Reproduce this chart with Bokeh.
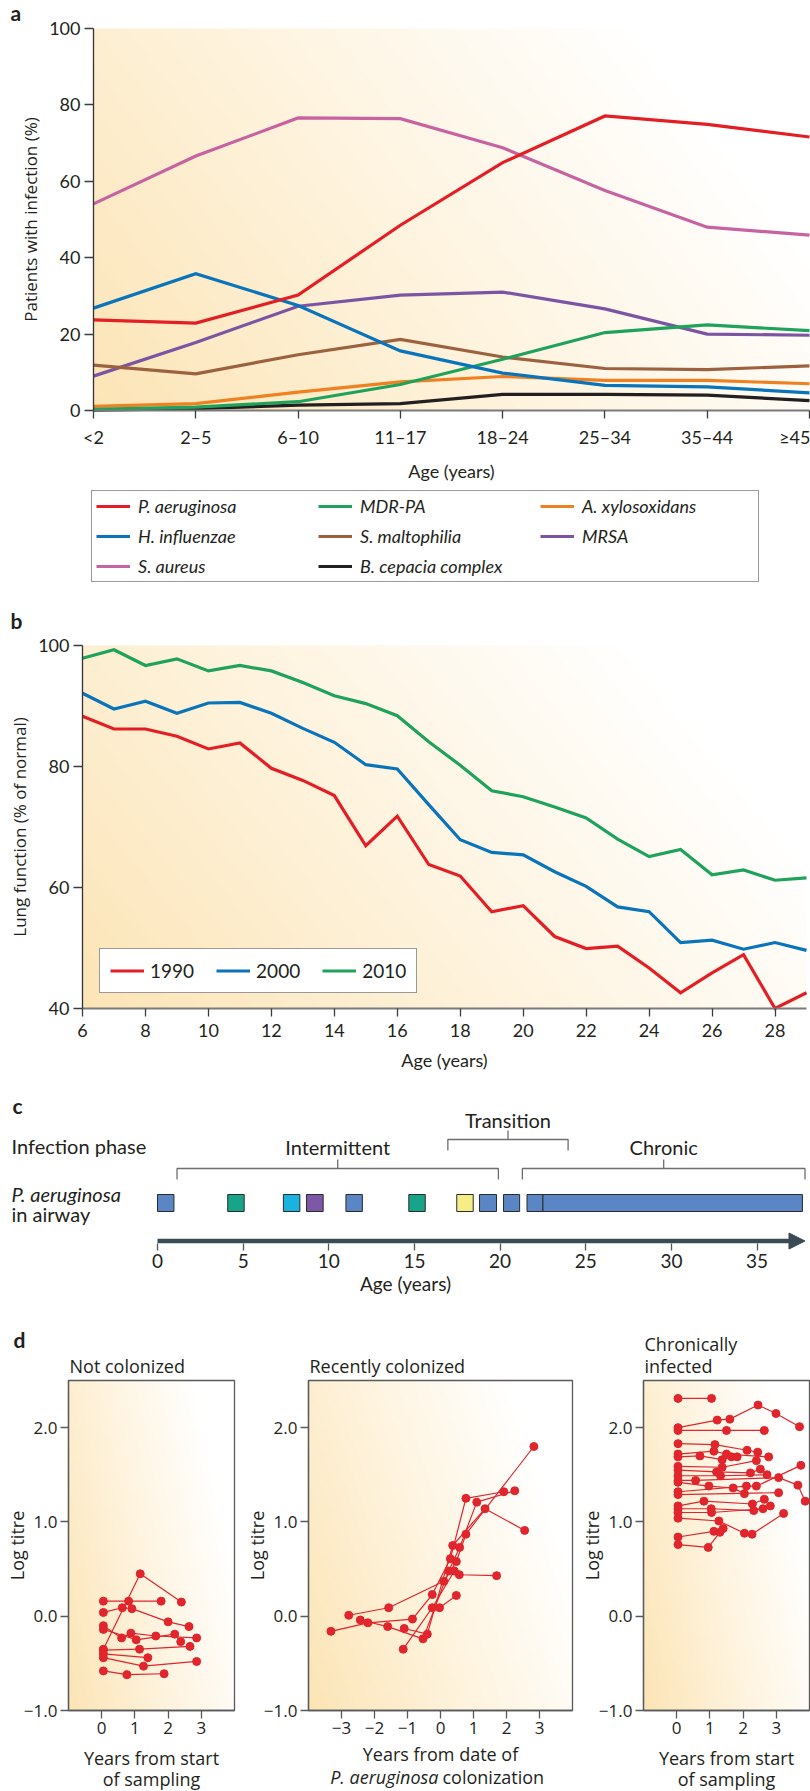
import numpy as np
from bokeh.plotting import figure
from bokeh.models import (Range1d, FixedTicker, Legend, LegendItem, Label,
                          Arrow, NormalHead)
from bokeh.layouts import column, row
from bokeh.embed import file_html
from bokeh.resources import INLINE
from bokeh.core.properties import value

# ---------------- data: panel a ----------------
age_groups = ["<2", "2–5", "6–10", "11–17", "18–24", "25–34", "35–44", "≥45"]
p_aeruginosa = [23.7, 22.9, 30.2, 48.5, 64.9, 77.1, 74.9, 71.6]
h_influenzae = [26.8, 35.8, 27.5, 15.6, 9.8, 6.6, 6.2, 4.6]
s_aureus = [54.1, 66.6, 76.6, 76.4, 68.8, 57.6, 48.0, 45.9]
mdr_pa = [0.3, 0.9, 2.3, 6.8, 13.4, 20.4, 22.4, 20.9]
s_maltophilia = [11.9, 9.6, 14.6, 18.6, 14.0, 11.0, 10.7, 11.7]
b_cepacia = [0.1, 0.5, 1.4, 1.8, 4.2, 4.2, 4.0, 2.6]
a_xylosoxidans = [1.1, 1.8, 4.8, 7.5, 8.9, 7.9, 7.9, 7.0]
mrsa = [9.0, 17.8, 27.3, 30.2, 31.0, 26.6, 20.0, 19.7]
a_names = ["P. aeruginosa", "H. influenzae", "S. aureus", "MDR-PA", "S. maltophilia",
           "B. cepacia complex", "A. xylosoxidans", "MRSA"]
a_values = [p_aeruginosa, h_influenzae, s_aureus, mdr_pa, s_maltophilia,
            b_cepacia, a_xylosoxidans, mrsa]
a_colors = ["#e31e24", "#0a74bb", "#c763a1", "#1fa25b", "#9c6240",
            "#231f20", "#f08122", "#7b55a4"]
a_yticks = [0, 20, 40, 60, 80, 100]

# ---------------- data: panel b ----------------
b_age = [6, 7, 8, 9, 10, 11, 12, 13, 14, 15, 16, 17, 18, 19, 20, 21, 22, 23, 24, 25, 26, 27, 28, 29]
fev_1990 = [88.3, 86.2, 86.2, 85.0, 82.9, 83.9, 79.7, 77.7, 75.2, 66.9, 71.8, 63.8,
            61.9, 56.0, 57.0, 51.9, 49.9, 50.3, 46.7, 42.6, 45.9, 48.9, 40.0, 42.6]
fev_2000 = [92.1, 89.5, 90.8, 88.8, 90.5, 90.6, 88.8, 86.3, 84.0, 80.3, 79.6, 73.7,
            67.9, 65.8, 65.4, 62.6, 60.2, 56.8, 56.0, 50.9, 51.3, 49.8, 50.9, 49.6]
fev_2010 = [97.9, 99.3, 96.7, 97.8, 95.8, 96.7, 95.8, 93.9, 91.7, 90.4, 88.4, 84.1,
            80.2, 76.0, 75.0, 73.3, 71.5, 68.0, 65.1, 66.3, 62.1, 62.9, 61.2, 61.6]
b_years = ["1990", "2000", "2010"]
b_values = [fev_1990, fev_2000, fev_2010]
b_colors = ["#e31e24", "#0a74bb", "#1fa25b"]
b_xticks = [6, 8, 10, 12, 14, 16, 18, 20, 22, 24, 26, 28]
b_yticks = [40, 60, 80, 100]

# ---------------- data: panel c ----------------
c_box_start = [0.0, 4.1, 7.35, 8.7, 11.0, 14.67, 17.47, 18.8, 20.2, 21.57, 22.5]
c_box_end = [0.96, 5.06, 8.31, 9.67, 11.96, 15.63, 18.43, 19.79, 21.14, 22.5, 37.65]
c_box_color = ["#5b86c5", "#17a589", "#1bb2df", "#7d58a7", "#5b86c5", "#17a589",
               "#f6ed86", "#5b86c5", "#5b86c5", "#5b86c5", "#5b86c5"]
phase_names = ["Intermittent", "Transition", "Chronic"]
phase_start = [1.14, 16.95, 21.3]
phase_end = [19.9, 23.97, 37.8]
phase_row = [0, 1, 0]
c_arrow_end = 37.8
c_xticks = [0, 5, 10, 15, 20, 25, 30, 35]

# ---------------- data: panel d ----------------
d1_x = [[0.05, 0.81, 1.79], [0.05, 1.16, 2.40], [0.05, 0.62, 0.91, 2.0, 2.63],
        [0.05, 0.60, 0.88, 1.63, 2.86], [0.05, 1.04, 2.20, 2.38], [0.05, 1.14, 2.66],
        [0.05, 1.39], [0.05, 1.26, 2.86], [0.05, 0.76, 1.88]]
d1_y = [[0.16, 0.16, 0.16], [-0.35, 0.45, 0.15], [0.04, 0.09, 0.08, -0.06, -0.11],
        [-0.10, -0.23, -0.18, -0.21, -0.23], [-0.14, -0.25, -0.19, -0.27], [-0.36, -0.35, -0.32],
        [-0.40, -0.44], [-0.44, -0.53, -0.48], [-0.58, -0.62, -0.61]]
d2_x = [[-3.32, -2.2, -0.85, -0.25, 0.30, 0.77, 1.92],
        [-2.78, -1.57, 0.10, 0.48, 0.77, 2.83],
        [-2.43, -1.6, -0.53, 0.25, 0.58, 1.10, 2.25],
        [-1.1, -0.4, 0.37, 1.35, 2.55],
        [-1.13, -0.25, 0.42, 0.57, 1.70],
        [-0.03, 0.48]]
d2_y = [[-0.16, -0.07, -0.03, 0.23, 0.61, 1.25, 1.32],
        [0.01, 0.09, 0.37, 0.58, 0.87, 1.80],
        [-0.04, -0.11, -0.24, 0.48, 0.73, 1.21, 1.33],
        [-0.13, -0.19, 0.75, 1.14, 0.91],
        [-0.35, 0.09, 0.48, 0.44, 0.43],
        [0.09, 0.22]]
d3_x = [[0.04, 1.05], [0.04, 1.22, 1.60, 2.45, 2.99, 3.70], [0.04, 1.50, 2.64],
        [0.04, 1.15, 2.12, 2.44], [0.04, 1.12, 1.50, 2.77], [0.04, 0.70, 1.37, 1.65, 1.82],
        [0.04, 1.37, 2.40], [0.04, 1.20, 2.22, 2.52], [0.04, 1.32, 2.72],
        [0.04, 0.57, 3.07, 3.65, 3.87], [0.04, 0.97, 1.70, 2.04], [0.04, 2.10, 2.40, 3.74],
        [0.04, 3.07], [0.04, 0.82, 2.28, 2.64], [0.04, 1.04, 2.32, 2.82], [0.04, 1.05, 2.60],
        [0.04, 1.27, 2.04, 2.27, 3.22], [0.04, 1.12, 1.40], [0.04, 0.95, 1.30]]
d3_y = [[2.31, 2.31], [2.00, 2.08, 2.09, 2.24, 2.15, 2.01], [1.97, 1.97, 1.97],
        [1.83, 1.82, 1.76, 1.74], [1.72, 1.75, 1.72, 1.69], [1.69, 1.70, 1.66, 1.69, 1.69],
        [1.59, 1.58, 1.65], [1.55, 1.53, 1.52, 1.56], [1.49, 1.49, 1.50],
        [1.44, 1.44, 1.47, 1.39, 1.22], [1.42, 1.38, 1.36, 1.30], [1.32, 1.38, 1.38, 1.60],
        [1.29, 1.31], [1.17, 1.22, 1.19, 1.24], [1.14, 1.14, 1.12, 1.17], [1.10, 1.10, 1.14],
        [1.04, 1.01, 0.88, 0.87, 1.09], [0.84, 0.90, 0.93], [0.76, 0.73, 0.89]]
d_ylim = [-1, 2.5]
d_yticks = [-1, 0, 1, 2]
d1_xlim, d1_xticks = [-1, 4], [0, 1, 2, 3]
d2_xlim, d2_xticks = [-4, 4], [-3, -2, -1, 0, 1, 2, 3]
d3_xlim, d3_xticks = [-1, 4], [0, 1, 2, 3]

# ---------------- styling ----------------
SANS = "Lato"
HUM = "Open Sans"
INK = "#231f20"
TICK = "#3c3c3c"
RED = "#e0252c"
SLATE = "#3a4b55"
BOXC = "#58595b"
W = 810


def gradient(nx, ny):
    u = np.linspace(0, 1, nx)[None, :]
    v = np.linspace(0, 1, ny)[:, None]
    t = np.clip(0.85 * u + 0.35 * v, 0, 1) ** 0.9
    c0 = np.array([252, 228, 180], float)
    img = np.zeros((ny, nx), dtype=np.uint32)
    view = img.view(dtype=np.uint8).reshape((ny, nx, 4))
    for k in range(3):
        view[:, :, k] = np.round(c0[k] + (255 - c0[k]) * t).astype(np.uint8)
    view[:, :, 3] = 255
    return img


def add_bg(p, x0, x1, y0, y1, nx, ny):
    p.image_rgba(image=[gradient(nx, ny)], x=x0, y=y0, dw=x1 - x0, dh=y1 - y0)


def frame_ranges(Wd, H, xlo, xhi, ylo, yhi, left, right, bottom, top):
    """Ranges such that the data box [xlo,xhi]x[ylo,yhi] sits at the given pixel margins."""
    sx = (xhi - xlo) / (Wd - left - right)
    sy = (yhi - ylo) / (H - bottom - top)
    return (Range1d(xlo - left * sx, xhi + right * sx),
            Range1d(ylo - bottom * sy, yhi + top * sy))


def style_axes(p, tick_font, tick_size, lab_font, lab_size):
    for ax in p.axis:
        ax.major_label_text_font = tick_font
        ax.major_label_text_font_size = tick_size
        ax.major_label_text_color = INK
        ax.axis_label_text_font = lab_font
        ax.axis_label_text_font_size = lab_size
        ax.axis_label_text_font_style = "normal"
        ax.axis_label_text_color = INK
        ax.minor_tick_line_color = None
        ax.major_tick_in = 0
        ax.major_tick_line_color = TICK
        ax.major_tick_line_width = 1.3


def screen_label(p, text, x, y, font=SANS, size="21px", style="normal", align="left"):
    p.add_layout(Label(x=x, y=y, x_units="screen", y_units="screen", text=text,
                       text_font=font, text_font_style=style, text_font_size=size,
                       text_align=align, text_baseline="alphabetic", text_color=INK))


def minus(v, fmt):
    return fmt.format(v).replace("-", "−")


# ======================= panel a =======================
HA = 600
xr, yr = frame_ranges(W, HA, 0, len(age_groups) - 1, a_yticks[0], a_yticks[-1], 93, 1, 190, 28)
pa = figure(width=W, height=HA, x_range=xr, y_range=yr, min_border=0,
            output_backend="svg", toolbar_location=None)
pa.outline_line_color = None
pa.grid.visible = False
add_bg(pa, 0, len(age_groups) - 1, a_yticks[0], a_yticks[-1], 240, 120)
xi = list(range(len(age_groups)))
rend_a = {}
for name, vals, col in reversed(list(zip(a_names, a_values, a_colors))):
    rend_a[name] = pa.line(xi, vals, line_color=col, line_width=3.2, line_join="miter")
style_axes(pa, SANS, "18px", SANS, "18px")
pa.xaxis.fixed_location = a_yticks[0]
pa.xaxis.bounds = (0, len(age_groups) - 1)
pa.xaxis.ticker = FixedTicker(ticks=xi)
pa.xaxis.major_label_overrides = {i: g for i, g in enumerate(age_groups)}
pa.xaxis.axis_label = "Age (years)"
pa.xaxis.major_tick_out = 8
pa.xaxis.major_label_standoff = 7
pa.xaxis.axis_label_standoff = 9
pa.xaxis.axis_line_color = "#7a7a7a"
pa.xaxis.axis_line_width = 2
pa.yaxis.fixed_location = 0
pa.yaxis.bounds = (a_yticks[0], a_yticks[-1])
pa.yaxis.ticker = FixedTicker(ticks=a_yticks)
pa.yaxis.axis_label = "Patients with infection (%)"
pa.yaxis.axis_label_text_font = HUM
pa.yaxis.axis_label_text_font_size = "17px"
pa.yaxis.major_tick_out = 9
pa.yaxis.major_label_standoff = 4
pa.yaxis.axis_label_standoff = 4
pa.yaxis.axis_line_color = "#333333"
pa.yaxis.axis_line_width = 1.3
leg_a = Legend(items=[LegendItem(label=n, renderers=[rend_a[n]]) for n in a_names],
               location=(91, 18), ncols=3, orientation="vertical",
               border_line_color="#333333", border_line_width=1.3,
               background_fill_color="white", background_fill_alpha=1,
               label_text_font=SANS, label_text_font_style="italic",
               label_text_font_size="18px", label_text_color=INK,
               glyph_width=34, glyph_height=18, label_height=18, label_width=172,
               label_standoff=8, padding=4, spacing=8, margin=0)
pa.add_layout(leg_a)
screen_label(pa, "a", 10, HA - 12, style="bold")

# ======================= panel b =======================
HB = 485
xr, yr = frame_ranges(W, HB, b_age[0], b_age[-1], b_yticks[0], b_yticks[-1], 82, 4, 77, 45)
pb = figure(width=W, height=HB, x_range=xr, y_range=yr, min_border=0,
            output_backend="svg", toolbar_location=None)
pb.outline_line_color = None
pb.grid.visible = False
add_bg(pb, b_age[0], b_age[-1], b_yticks[0], b_yticks[-1], 240, 120)
rend_b = []
for vals, col in zip(b_values, b_colors):
    rend_b.append(pb.line(b_age, vals, line_color=col, line_width=3.2, line_join="miter"))
style_axes(pb, SANS, "18px", SANS, "18px")
pb.xaxis.fixed_location = b_yticks[0]
pb.xaxis.bounds = (b_age[0], b_age[-1])
pb.xaxis.ticker = FixedTicker(ticks=b_xticks)
pb.xaxis.axis_label = "Age (years)"
pb.xaxis.major_tick_out = 8
pb.xaxis.major_label_standoff = 7
pb.xaxis.axis_label_standoff = 9
pb.xaxis.axis_line_color = "#7a7a7a"
pb.xaxis.axis_line_width = 2
pb.yaxis.fixed_location = b_age[0]
pb.yaxis.bounds = (b_yticks[0], b_yticks[-1])
pb.yaxis.ticker = FixedTicker(ticks=b_yticks)
pb.yaxis.axis_label = "Lung function (% of normal)"
pb.yaxis.axis_label_text_font = HUM
pb.yaxis.axis_label_text_font_size = "17px"
pb.yaxis.major_tick_out = 9
pb.yaxis.major_label_standoff = 4
pb.yaxis.axis_label_standoff = 4
pb.yaxis.axis_line_color = "#333333"
pb.yaxis.axis_line_width = 1.3
leg_b = Legend(items=[LegendItem(label=yv, renderers=[r]) for yv, r in zip(b_years, rend_b)],
               location=(99, 92), orientation="horizontal",
               border_line_color="#333333", border_line_width=1.3,
               background_fill_color="white", background_fill_alpha=1,
               label_text_font=SANS, label_text_font_size="19px", label_text_color=INK,
               glyph_width=34, glyph_height=15, label_height=15,
               label_standoff=6, padding=10, spacing=22, margin=0)
pb.add_layout(leg_b)
screen_label(pb, "b", 10, HB - 20, style="bold")

# ======================= panel c =======================
PX_PER_YEAR = 17.13
C_ZERO = 157.0  # px from left edge of the plot to age 0
C_FRAME_H = 165
HC = 222
pc = figure(width=W, height=HC,
            x_range=Range1d(-C_ZERO / PX_PER_YEAR, (W - C_ZERO) / PX_PER_YEAR),
            y_range=Range1d(0, C_FRAME_H), y_axis_type=None,
            output_backend="svg", toolbar_location=None,
            min_border_left=0, min_border_right=0, min_border_top=0,
            min_border_bottom=HC - C_FRAME_H)
pc.outline_line_color = None
pc.grid.visible = False
BOX_LO, BOX_HI = 39, 56
pc.quad(left=c_box_start, right=c_box_end, bottom=BOX_LO, top=BOX_HI,
        fill_color=c_box_color, line_color="#2b2b2b", line_width=1)
BR_BASE, BR_STEP, BR_DROP, BR_RISE, BR_LABEL = 82, 29, 11, 9, 22
br_xs, br_ys, lab_x, lab_y = [], [], [], []
for s, e, r in zip(phase_start, phase_end, phase_row):
    base = BR_BASE + BR_STEP * r
    m = (s + e) / 2
    br_xs += [[s, s, e, e], [m, m]]
    br_ys += [[base - BR_DROP, base, base, base - BR_DROP], [base, base + BR_RISE]]
    lab_x.append(m)
    lab_y.append(base + BR_LABEL - 2 * r)
pc.multi_line(xs=br_xs, ys=br_ys, line_color="#6d6e70", line_width=1.3)
pc.text(x=lab_x, y=lab_y, text=phase_names, text_font=value(SANS),
        text_font_size=value("20px"), text_align="center", text_baseline="middle",
        text_color=INK)
ARROW_Y = 9.5
pc.add_layout(Arrow(end=NormalHead(size=16, fill_color=SLATE, line_color=SLATE, line_width=1),
                    x_start=c_box_start[0], y_start=ARROW_Y, x_end=c_arrow_end, y_end=ARROW_Y,
                    line_width=4.5, line_color=SLATE))
style_axes(pc, SANS, "19px", SANS, "19px")
pc.xaxis.ticker = FixedTicker(ticks=c_xticks)
pc.xaxis.axis_line_color = None
pc.xaxis.major_tick_in = 7
pc.xaxis.major_tick_out = 0
pc.xaxis.major_tick_line_color = "#555555"
pc.xaxis.major_label_standoff = 3
pc.xaxis.axis_label = "Age (years)"
pc.xaxis.axis_label_standoff = 1
for txt, yy, style in [("Infection phase", 105, "normal"), ("P. aeruginosa", 57, "italic"),
                       ("in airway", 37, "normal")]:
    pc.add_layout(Label(x=11, y=yy, x_units="screen", y_units="data", text=txt,
                        text_font=SANS, text_font_size="20px", text_font_style=style,
                        text_baseline="middle", text_color=INK))
pc.add_layout(Label(x=12, y=145, x_units="screen", y_units="data", text="c",
                    text_font=SANS, text_font_style="bold", text_font_size="21px",
                    text_baseline="alphabetic", text_color=INK))

# ======================= panel d =======================
HD = 484
D_TOP, D_BOTTOM = 73, 81


def d_panel(Wd, left, right, xlim, xticks, xs, ys, xlabel, label_standoff):
    xr, yr = frame_ranges(Wd, HD, xlim[0], xlim[1], d_ylim[0], d_ylim[1],
                          left, right, D_BOTTOM, D_TOP)
    p = figure(width=Wd, height=HD, x_range=xr, y_range=yr, min_border=0,
               output_backend="svg", toolbar_location=None)
    p.grid.visible = False
    p.outline_line_color = None
    add_bg(p, xlim[0], xlim[1], d_ylim[0], d_ylim[1], 70, 140)
    p.quad(left=xlim[0], right=xlim[1], bottom=d_ylim[0], top=d_ylim[1],
           fill_color=None, line_color=BOXC, line_width=1.3)
    p.multi_line(xs=xs, ys=ys, line_color=RED, line_width=1.2)
    fx = [v for s in xs for v in s]
    fy = [v for s in ys for v in s]
    p.scatter(x=fx, y=fy, size=8, fill_color=RED, line_color=RED)
    style_axes(p, HUM, "17px", HUM, "18px")
    for ax in p.axis:
        ax.axis_line_color = BOXC
        ax.axis_line_width = 1.3
        ax.major_tick_out = 8
        ax.major_label_standoff = 3
        ax.major_tick_line_color = BOXC
    p.yaxis.fixed_location = xlim[0]
    p.yaxis.bounds = (d_ylim[0], d_ylim[1])
    p.yaxis.ticker = FixedTicker(ticks=d_yticks)
    p.yaxis.major_label_overrides = {t: minus(t, "{:.1f}") for t in d_yticks}
    p.yaxis.axis_label = "Log titre"
    p.yaxis.axis_label_standoff = -8
    p.xaxis.fixed_location = d_ylim[0]
    p.xaxis.bounds = (xlim[0], xlim[1])
    p.xaxis.ticker = FixedTicker(ticks=xticks)
    p.xaxis.major_label_overrides = {t: minus(t, "{:d}") for t in xticks}
    p.xaxis.axis_label = xlabel
    p.xaxis.axis_label_text_line_height = 0.9
    p.xaxis.axis_label_standoff = label_standoff
    return p


d1 = d_panel(240, 68, 6, d1_xlim, d1_xticks, d1_x, d1_y, "Years from start\nof sampling", 9)
d2 = d_panel(340, 68, 8, d2_xlim, d2_xticks, d2_x, d2_y, "Years from date of", 5)
d3 = d_panel(230, 63, 1, d3_xlim, d3_xticks, d3_x, d3_y, "Years from start\nof sampling", 9)
screen_label(d1, "Not colonized", 69, HD - 58, font=HUM, size="18px")
screen_label(d2, "Recently colonized", 69, HD - 58, font=HUM, size="18px")
screen_label(d3, "Chronically", 64, HD - 36, font=HUM, size="18px")
screen_label(d3, "infected", 64, HD - 58, font=HUM, size="18px")
screen_label(d1, "d", 13, HD - 32, style="bold")
d2.add_layout(Label(x=-0.06, y=15, x_units="data", y_units="screen", text="P. aeruginosa",
                    text_font=HUM, text_font_style="italic", text_font_size="18px",
                    text_align="right", text_baseline="alphabetic", text_color=INK))
d2.add_layout(Label(x=0.06, y=15, x_units="data", y_units="screen", text="colonization",
                    text_font=HUM, text_font_size="18px", text_align="left",
                    text_baseline="alphabetic", text_color=INK))

layout = column(pa, pb, pc, row(d1, d2, d3))
open("out.html", "w").write(file_html(layout, INLINE))
